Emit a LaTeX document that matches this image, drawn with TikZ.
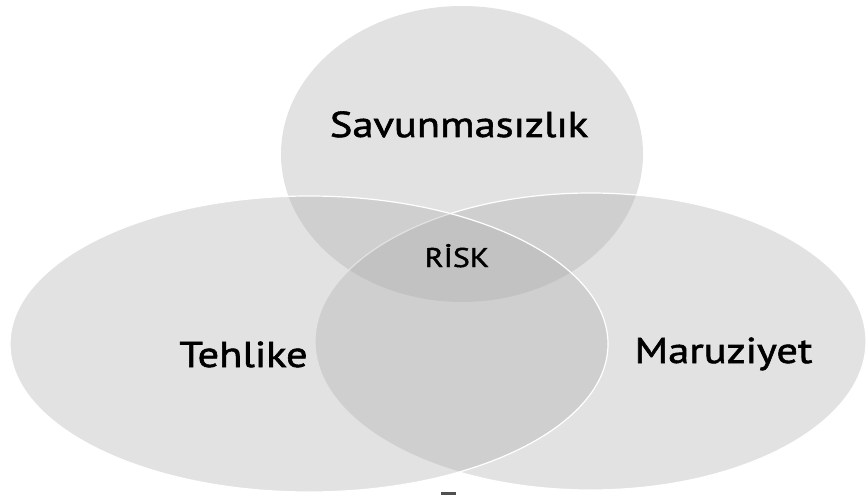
\documentclass[tikz,border=0pt]{standalone}
\usepackage{fontspec}
\setmainfont{PT Sans}[FakeStretch=1.18,FakeBold=1.6]
\definecolor{venngray}{RGB}{170,170,170}
\definecolor{marker}{RGB}{80,80,80}
\begin{document}
\begin{tikzpicture}[x=1pt,y=1pt,
  vennset/.style={fill=venngray,fill opacity=0.34},
  vennedge/.style={draw=white,line width=1.2pt},
  biglabel/.style={anchor=base,inner sep=0pt,font=\fontsize{36}{42}\selectfont,text=black},
  smalllabel/.style={anchor=base,inner sep=0pt,font=\fontsize{27}{32}\selectfont,text=black}]
\useasboundingbox (0,0) rectangle (867,499);
% top set (Savunmasizlik)
\fill[vennset] (462,345) ellipse [x radius=181,y radius=148];
% right set (Maruziyet)
\fill[vennset] (590.5,157.5) ellipse [x radius=275.5,y radius=148.5];
\draw[vennedge] (590.5,157.5) ellipse [x radius=275.5,y radius=148.5];
% left set (Tehlike)
\fill[vennset] (309,155) ellipse [x radius=299,y radius=148];
\draw[vennedge] (309,155) ellipse [x radius=299,y radius=148];
% small mark at the bottom
\fill[marker] (441,4) rectangle (456,7);
% labels
\node[biglabel] (sav) at (459,362) {Savunmasızlık};
\node[smalllabel] (risk) at (457,232) {RİSK};
\node[biglabel] (teh) at (243.5,132) {Tehlike};
\node[biglabel] (mar) at (723.5,136) {Maruziyet};
\end{tikzpicture}
\end{document}
